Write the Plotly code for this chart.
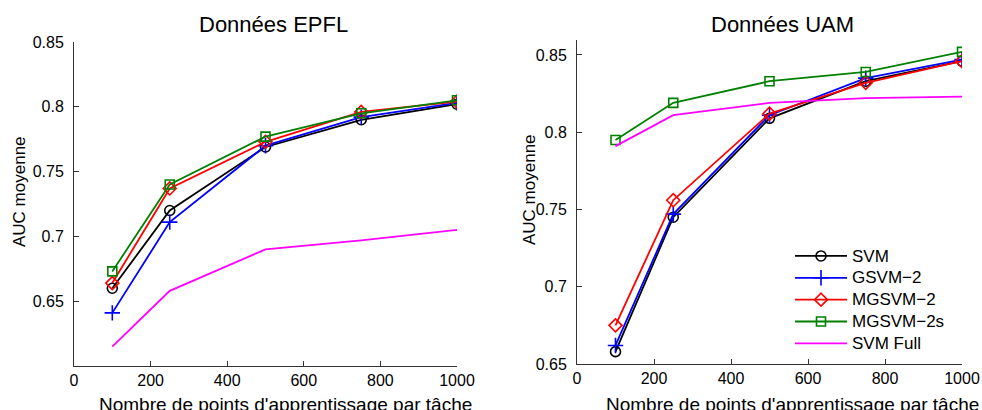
import plotly.graph_objects as go

x_points = [100, 250, 500, 750, 1000]
series_names = ["SVM", "GSVM\u22122", "MGSVM\u22122", "MGSVM\u22122s", "SVM Full"]

# EPFL data
epfl_svm = [0.660, 0.720, 0.769, 0.790, 0.802]
epfl_gsvm2 = [0.641, 0.711, 0.770, 0.792, 0.803]
epfl_mgsvm2 = [0.664, 0.737, 0.773, 0.796, 0.804]
epfl_mgsvm2s = [0.673, 0.740, 0.777, 0.795, 0.805]
epfl_svmfull = [0.615, 0.658, 0.690, 0.697, 0.705]

# UAM data
uam_svm = [0.658, 0.745, 0.809, 0.833, 0.846]
uam_gsvm2 = [0.662, 0.747, 0.811, 0.835, 0.847]
uam_mgsvm2 = [0.675, 0.756, 0.812, 0.832, 0.846]
uam_mgsvm2s = [0.795, 0.819, 0.833, 0.839, 0.852]
uam_svmfull = [0.791, 0.811, 0.819, 0.822, 0.823]

x_tickvals = [0, 200, 400, 600, 800, 1000]
y_tickvals = [0.65, 0.7, 0.75, 0.8, 0.85]
y_ticktext = ["0.65", "0.7", "0.75", "0.8", "0.85"]

colors = ["#000000", "#0000ff", "#ff0000", "#008000", "#ff00ff"]
symbols = ["circle-open", "cross-thin-open", "diamond-open", "square-open", None]
msizes = [10, 11, 10, 9, 0]

FONT = "Liberation Sans, Arial, Helvetica, sans-serif"
W, H = 982, 410

fig = go.Figure()

epfl = [epfl_svm, epfl_gsvm2, epfl_mgsvm2, epfl_mgsvm2s, epfl_svmfull]
uam = [uam_svm, uam_gsvm2, uam_mgsvm2, uam_mgsvm2s, uam_svmfull]

for k, (data, xa, ya) in enumerate([(epfl, "x", "y"), (uam, "x2", "y2")]):
    for i, name in enumerate(series_names):
        mode = "lines+markers" if symbols[i] else "lines"
        marker = dict(symbol=symbols[i], size=msizes[i], color=colors[i],
                      line=dict(color=colors[i], width=1.6)) if symbols[i] else None
        fig.add_trace(go.Scatter(
            x=x_points, y=data[i],
            name="<span style='font-size:17px'>" + name + "</span>",
            mode=mode,
            line=dict(color=colors[i], width=1.8),
            marker=marker, xaxis=xa, yaxis=ya,
            showlegend=(k == 1),
        ))

axis_common = dict(showgrid=False, zeroline=False, showline=True, linecolor="#333333",
                   linewidth=1, ticks="inside", ticklen=5, tickcolor="#333333",
                   tickfont=dict(family=FONT, size=16, color="#000000"), mirror=False)

fig.update_layout(
    width=W, height=H,
    margin=dict(l=0, r=0, t=0, b=0, autoexpand=False),
    paper_bgcolor="white", plot_bgcolor="white",
    font=dict(family=FONT, size=16, color="#000000"),
    xaxis=dict(domain=[74 / W, 457 / W], range=[0, 1000], tickvals=x_tickvals,
               anchor="y", **axis_common),
    yaxis=dict(domain=[1 - 366 / H, 1 - 42 / H], range=[0.60, 0.85], tickvals=y_tickvals,
               ticktext=y_ticktext, anchor="x", ticklabelstandoff=6, **axis_common),
    xaxis2=dict(domain=[577 / W, 962 / W], range=[0, 1000], tickvals=x_tickvals,
                anchor="y2", **axis_common),
    yaxis2=dict(domain=[1 - 364 / H, 1 - 39.5 / H], range=[0.65, 0.86], tickvals=y_tickvals,
                ticktext=y_ticktext, anchor="x2", ticklabelstandoff=6, **axis_common),
    legend=dict(x=790 / W, y=1 - 240 / H, xanchor="left", yanchor="top",
                bgcolor="rgba(255,255,255,0)", borderwidth=0,
                font=dict(family=FONT, size=14.5, color="#000000"),
                itemwidth=52, tracegroupgap=0),
)

def ann(text, px, py, size, angle=0):
    fig.add_annotation(text=text, x=px / W, y=1 - py / H, xref="paper", yref="paper",
                       showarrow=False, textangle=angle, xanchor="center", yanchor="middle",
                       font=dict(family=FONT, size=size, color="#000000"))

ann("Données EPFL", 273, 24, 22)
ann("Données UAM", 782, 24, 22)
ann("AUC moyenne", 19, 192, 17, -90)
ann("AUC moyenne", 529, 190, 17, -90)
ann("Nombre de points d'apprentissage par tâche", 285, 404, 19)
ann("Nombre de points d'apprentissage par tâche", 792, 404, 19)

fig.write_html("out.html", config={"displayModeBar": False},
               post_script="document.body.style.margin='0';document.body.style.overflow='hidden';")
